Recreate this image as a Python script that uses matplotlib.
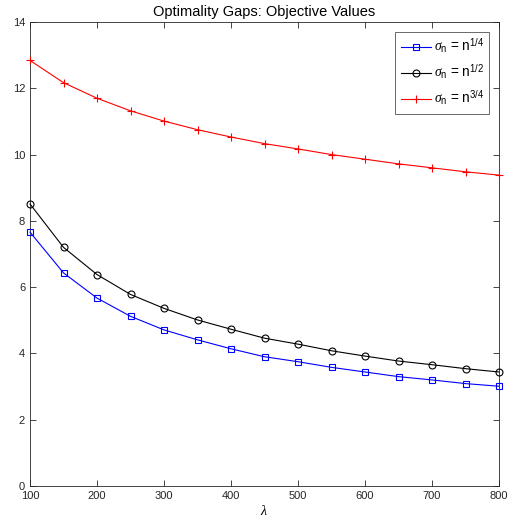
import numpy as np
import matplotlib
matplotlib.use('Agg')
import matplotlib.pyplot as plt

plt.rcParams['font.family'] = ['Liberation Sans', 'DejaVu Sans']
plt.rcParams['mathtext.fontset'] = 'custom'
plt.rcParams['mathtext.rm'] = 'Liberation Sans'
plt.rcParams['mathtext.it'] = 'Liberation Serif:italic'

# data
lam = [100, 150, 200, 250, 300, 350, 400, 450, 500, 550, 600, 650, 700, 750, 800]
gap_quarter = [7.66, 6.43, 5.67, 5.12, 4.71, 4.41, 4.14, 3.90, 3.75, 3.58, 3.44, 3.30, 3.20, 3.09, 3.01]
gap_half = [8.51, 7.20, 6.38, 5.78, 5.36, 5.01, 4.73, 4.46, 4.28, 4.08, 3.92, 3.77, 3.66, 3.54, 3.44]
gap_three_quarter = [12.84, 12.17, 11.70, 11.32, 11.01, 10.75, 10.53, 10.33, 10.17, 10.00, 9.86, 9.72, 9.60, 9.48, 9.38]
labels = [r'$\sigma_{\mathrm{n}}$ = n$^{\mathrm{1/4}}$',
          r'$\sigma_{\mathrm{n}}$ = n$^{\mathrm{1/2}}$',
          r'$\sigma_{\mathrm{n}}$ = n$^{\mathrm{3/4}}$']

W, H = 509, 523
fig = plt.figure(figsize=(W / 100, H / 100), dpi=100)
ax = fig.add_axes([30 / W, (H - 486) / H, 469 / W, 464 / H])

ax.plot(lam, gap_quarter, '-s', color='blue', lw=0.8, ms=4, mfc='none', mew=0.8,
        label=labels[0], clip_on=False, zorder=3)
ax.plot(lam, gap_half, '-o', color='black', lw=0.8, ms=5, mfc='none', mew=0.8,
        label=labels[1], clip_on=False, zorder=3)
ax.plot(lam, gap_three_quarter, '-+', color='red', lw=0.8, ms=5.5, mew=0.8,
        label=labels[2], clip_on=False, zorder=3)

ax.set_xlim(100, 800)
ax.set_ylim(0, 14)
ax.set_xticks(np.arange(100, 801, 100))
ax.set_yticks(np.arange(0, 15, 2))
gray = '#262626'
ax.tick_params(direction='in', top=True, right=True, labelsize=8, colors=gray, length=4, width=0.6)
for s in ax.spines.values():
    s.set_color(gray)
    s.set_linewidth(0.6)
ax.set_title('Optimality Gaps: Objective Values', fontsize=10.5, pad=4)
ax.set_xlabel(r'$\lambda$', fontsize=10, labelpad=2, family='DejaVu Serif')

leg = ax.legend(loc='upper right', fontsize=9.8, frameon=True, fancybox=False,
                edgecolor=gray, handlelength=2.2, borderaxespad=0.7,
                handletextpad=0.2, labelspacing=0.5, borderpad=0.4)
leg.get_frame().set_linewidth(0.6)

fig.savefig('out.png', dpi=100)
